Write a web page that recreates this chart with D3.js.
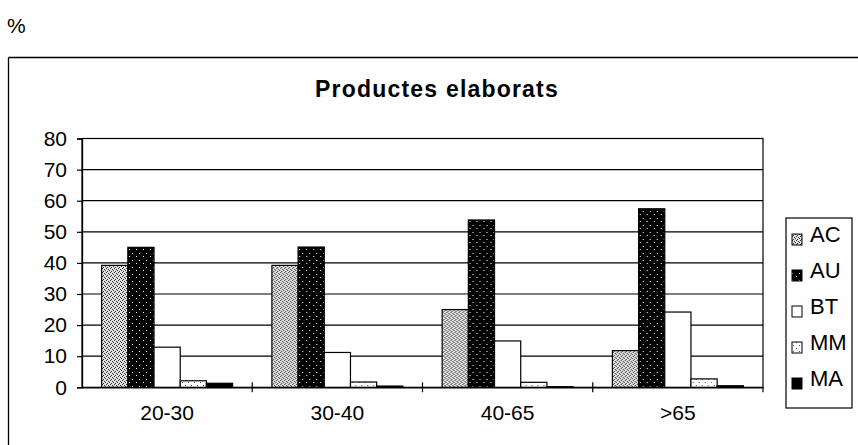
<!DOCTYPE html>
<html><head><meta charset="utf-8">
<script src="https://cdn.jsdelivr.net/npm/d3@7"></script>
<style>
html,body{margin:0;padding:0;background:#fff;}
svg{display:block;}
text{font-family:"Liberation Sans",Arial,sans-serif;fill:#000;}
</style></head>
<body>
<svg id="chart" width="858" height="445"></svg>
<script>
const categories = ["20-30", "30-40", "40-65", ">65"];
const seriesNames = ["AC", "AU", "BT", "MM", "MA"];
const AC = [39.2, 39.2, 25.0, 11.8];
const AU = [45.0, 45.1, 53.8, 57.4];
const BT = [12.9, 11.2, 14.9, 24.2];
const MM = [2.1, 1.7, 1.6, 2.7];
const MA = [1.3, 0.4, 0.2, 0.5];
const yTicks = [0, 10, 20, 30, 40, 50, 60, 70, 80];
const title = "Productes elaborats";
const unitLabel = "%";

const seriesValues = {AC, AU, BT, MM, MA};
const fills = {AC: "url(#pAC)", AU: "url(#pAU)", BT: "#fff", MM: "url(#pMM)", MA: "#000"};

const svg = d3.select("#chart");
const defs = svg.append("defs");

function pattern(id, bg, fg, cells, size) {
  const p = defs.append("pattern").attr("id", id).attr("patternUnits", "userSpaceOnUse")
    .attr("width", size).attr("height", size);
  p.append("rect").attr("width", size).attr("height", size).attr("fill", bg);
  cells.forEach(c => p.append("rect").attr("x", c[0]).attr("y", c[1]).attr("width", 1).attr("height", 1).attr("fill", fg));
}
pattern("pAC", "#e0e0e0", "#333", [[0,0],[2,1],[1,3],[3,2]], 4);
pattern("pAU", "#000", "#fff", [[1,1],[5,4]], 7);
pattern("pMM", "#fff", "#555", [[1,1],[4,4]], 6);

// outer chart frame (partially visible)
svg.append("line").attr("x1", 8.5).attr("x2", 858).attr("y1", 57.5).attr("y2", 57.5).attr("stroke", "#000").attr("stroke-width", 1.3);
svg.append("line").attr("x1", 8.5).attr("x2", 8.5).attr("y1", 57.5).attr("y2", 445).attr("stroke", "#000").attr("stroke-width", 1.3);

svg.append("text").attr("x", 7).attr("y", 33).attr("font-size", 21).text(unitLabel);

svg.append("text").attr("x", 437).attr("y", 97).attr("text-anchor", "middle")
  .attr("font-size", 23).attr("font-weight", "bold").attr("letter-spacing", 1.2).text(title);

const plot = {x0: 82, x1: 763, y0: 138.5, y1: 387.3};

const x = d3.scaleBand().domain(categories).range([plot.x0, plot.x1]).paddingInner(0).paddingOuter(0);
// Excel gap width 150% -> outer padding 0.75 bar each side
const xs = d3.scaleBand().domain(seriesNames).range([0, x.bandwidth()]).paddingInner(0).paddingOuter(0.75);
const y = d3.scaleLinear().domain([0, 80]).range([plot.y1, plot.y0]);

svg.append("rect").attr("x", plot.x0).attr("y", plot.y0).attr("width", plot.x1 - plot.x0).attr("height", plot.y1 - plot.y0)
  .attr("fill", "#fff").attr("stroke", "#000").attr("stroke-width", 1.2);

svg.append("g").selectAll("line").data(yTicks.filter(d => d > 0)).join("line")
  .attr("x1", plot.x0).attr("x2", plot.x1).attr("y1", d => y(d)).attr("y2", d => y(d))
  .attr("stroke", "#000").attr("stroke-width", 1.2);

const groups = svg.append("g").selectAll("g").data(categories).join("g")
  .attr("transform", d => `translate(${x(d)},0)`);
groups.selectAll("rect").data((c, i) => seriesNames.map(s => ({s, v: seriesValues[s][i]}))).join("rect")
  .attr("x", d => xs(d.s)).attr("width", xs.bandwidth())
  .attr("y", d => y(d.v)).attr("height", d => y(0) - y(d.v))
  .attr("fill", d => fills[d.s]).attr("stroke", "#000").attr("stroke-width", 1.2);

const yAxis = d3.axisLeft(y).tickValues(yTicks).tickSize(5).tickPadding(10);
const gy = svg.append("g").attr("transform", `translate(${plot.x0},0)`).call(yAxis);
gy.select(".domain").attr("stroke", "#000").attr("stroke-width", 1.3);
gy.selectAll(".tick line").attr("stroke", "#000").attr("stroke-width", 1.2);
gy.selectAll(".tick text").attr("font-size", 21).attr("font-family", "Liberation Sans, Arial, sans-serif").attr("fill", "#000");

const xAxis = d3.axisBottom(x).tickSize(0).tickPadding(18);
const gx = svg.append("g").attr("transform", `translate(0,${plot.y1})`).call(xAxis);
gx.select(".domain").attr("stroke", "#000").attr("stroke-width", 1.3);
gx.selectAll(".tick text").attr("font-size", 21).attr("font-family", "Liberation Sans, Arial, sans-serif").attr("fill", "#000");
svg.append("g").selectAll("line").data(categories.slice(1)).join("line")
  .attr("x1", d => x(d)).attr("x2", d => x(d)).attr("y1", plot.y1 - 5).attr("y2", plot.y1 + 5)
  .attr("stroke", "#000").attr("stroke-width", 1.2);
svg.append("line").attr("x1", plot.x1).attr("x2", plot.x1).attr("y1", plot.y1).attr("y2", plot.y1 + 5)
  .attr("stroke", "#000").attr("stroke-width", 1.2);

const lg = svg.append("g");
lg.append("rect").attr("x", 786).attr("y", 218).attr("width", 66).attr("height", 190)
  .attr("fill", "#fff").attr("stroke", "#000").attr("stroke-width", 1.2);
const ly = d3.scalePoint().domain(seriesNames).range([236, 380]);
const items = lg.selectAll("g").data(seriesNames).join("g").attr("transform", d => `translate(0,${ly(d)})`);
items.append("rect").attr("x", 792).attr("y", -2).attr("width", 10).attr("height", 11)
  .attr("fill", d => fills[d]).attr("stroke", "#000").attr("stroke-width", 1);
items.append("text").attr("x", 810).attr("y", 6).attr("font-size", 22).text(d => d);
</script>
</body></html>
